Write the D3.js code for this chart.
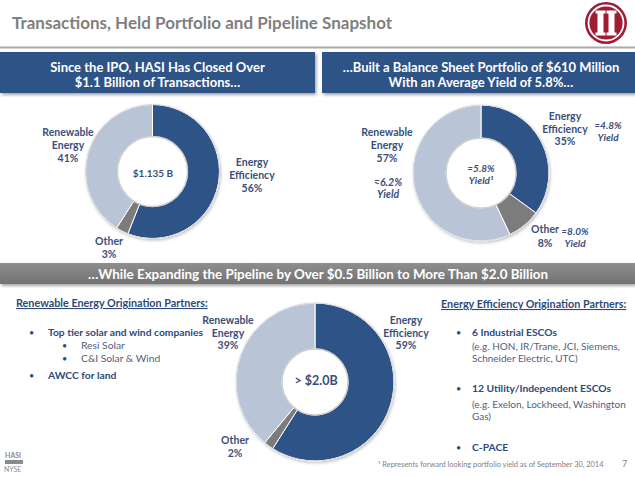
<!DOCTYPE html>
<html><head><meta charset="utf-8">
<script src="https://cdn.jsdelivr.net/npm/d3@7"></script>
<style>
html,body{margin:0;padding:0;background:#fff;}
svg{display:block;font-family:Lato,"Open Sans",sans-serif;}
</style></head>
<body><svg id="c" width="635" height="477"></svg>
<script>
// ---------- data ----------
const sliceCategories = ["Energy Efficiency", "Other", "Renewable Energy"];
const transactionValues = [56, 3, 41];
const portfolioValues = [35, 8, 57];
const pipelineValues = [59, 2, 39];
const portfolioYields = ["≈4.8%", "≈8.0%", "≈6.2%"];
const transactionCenter = "$1.135 B";
const portfolioCenter = ["≈5.8%", "Yield¹"];
const pipelineCenter = "> $2.0B";
const pageTitle = "Transactions, Held Portfolio and Pipeline Snapshot";
const headerLeft = ["Since the IPO, HASI Has Closed Over", "$1.1 Billion of Transactions…"];
const headerRight = ["…Built a Balance Sheet Portfolio of $610 Million", "With an Average Yield of 5.8%…"];
const bandText = "…While Expanding the Pipeline by Over $0.5 Billion to More Than $2.0 Billion";
const reTitle = "Renewable Energy Origination Partners:";
const eeTitle = "Energy Efficiency Origination Partners:";
const footnote = "¹ Represents forward looking portfolio yield as of September 30, 2014";
const pageNumber = "7";

// ---------- setup ----------
const svg = d3.select("#c");
const color = d3.scaleOrdinal().domain(sliceCategories).range(["#2f5286", "#7b7b7b", "#b9c4d6"]);
const labelFill = "#3a4f7a";
const defs = svg.append("defs");
const sh = defs.append("filter").attr("id", "sh").attr("x", "-5%").attr("y", "-20%").attr("width", "110%").attr("height", "160%");
sh.append("feDropShadow").attr("dx", 1.5).attr("dy", 2).attr("stdDeviation", 1.5).attr("flood-color", "#000").attr("flood-opacity", 0.35);
const dsh = defs.append("filter").attr("id", "dsh").attr("x", "-20%").attr("y", "-20%").attr("width", "140%").attr("height", "140%");
dsh.append("feDropShadow").attr("dx", 1).attr("dy", 1.5).attr("stdDeviation", 1.5).attr("flood-color", "#000").attr("flood-opacity", 0.25);
const bandGrad = defs.append("linearGradient").attr("id", "bg").attr("x1", 0).attr("y1", 0).attr("x2", 0).attr("y2", 1);
bandGrad.append("stop").attr("offset", 0).attr("stop-color", "#8e8e8e");
bandGrad.append("stop").attr("offset", 1).attr("stop-color", "#727272");

// ---------- title & logo ----------
svg.append("text").attr("x", 12).attr("y", 28.5).attr("font-size", 17).attr("font-weight", 700)
  .attr("fill", "#7f7f7f").text(pageTitle);
const logo = svg.append("g").attr("transform", "translate(606,23)");
logo.append("circle").attr("r", 21).attr("fill", "#a01c35");
logo.append("circle").attr("r", 17.5).attr("fill", "none").attr("stroke", "#fff").attr("stroke-width", 1.8);
[-5.5, 5.5].forEach(dx => {
  logo.append("rect").attr("x", dx - 3).attr("y", -11).attr("width", 6).attr("height", 22).attr("fill", "#fff");
  logo.append("rect").attr("x", dx - 5).attr("y", -12.5).attr("width", 10).attr("height", 3).attr("fill", "#fff");
  logo.append("rect").attr("x", dx - 5).attr("y", 9.5).attr("width", 10).attr("height", 3).attr("fill", "#fff");
});
svg.append("line").attr("x1", 0).attr("x2", 635).attr("y1", 47.5).attr("y2", 47.5)
  .attr("stroke", "#a9a9a9").attr("stroke-width", 2);

// ---------- header boxes ----------
function header(x, w, lines) {
  svg.append("rect").attr("x", x).attr("y", 52).attr("width", w).attr("height", 41)
    .attr("fill", "#2f5286").attr("filter", "url(#sh)");
  lines.forEach((t, i) => svg.append("text").attr("x", x + w / 2).attr("y", 71.5 + i * 15)
    .attr("text-anchor", "middle").attr("font-size", 13).attr("font-weight", 700).attr("fill", "#fff").text(t));
}
header(0, 315, headerLeft);
header(322, 318, headerRight);

// ---------- band ----------
svg.append("rect").attr("x", 0).attr("y", 263).attr("width", 635).attr("height", 21)
  .attr("fill", "url(#bg)").attr("filter", "url(#sh)");
svg.append("text").attr("x", 318).attr("y", 278.5).attr("text-anchor", "middle")
  .attr("font-size", 13.4).attr("font-weight", 700).attr("fill", "#fff").text(bandText);

// ---------- donuts ----------
function donut(cx, cy, ro, ri, values) {
  const g = svg.append("g").attr("transform", `translate(${cx},${cy})`);
  const pie = d3.pie().sort(null).value(d => d.v);
  const arc = d3.arc().outerRadius(ro).innerRadius(ri);
  const data = values.map((v, i) => ({ k: sliceCategories[i], v }));
  g.append("g").attr("filter", "url(#dsh)").selectAll("path").data(pie(data)).join("path")
    .attr("d", arc).attr("fill", d => color(d.data.k)).attr("stroke", "#fff").attr("stroke-width", 1);
  g.append("circle").attr("r", ri).attr("fill", "#fff").attr("stroke", "#cfcfcf").attr("stroke-width", 1.5);
  g.append("circle").attr("r", ro).attr("fill", "none").attr("stroke", "#d9d9d9").attr("stroke-width", 1);
  return g;
}
function label(x, y, lines, opts = {}) {
  const t = svg.append("text").attr("text-anchor", opts.anchor || "middle")
    .attr("font-size", opts.size || 10.5).attr("font-weight", opts.weight || 700)
    .attr("font-style", opts.italic ? "italic" : "normal").attr("fill", opts.fill || labelFill);
  lines.forEach((l, i) => t.append("tspan").attr("x", x).attr("y", y + i * (opts.lh || 13)).text(l));
  return t;
}
const pct = v => v + "%";

// donut 1
donut(152.5, 171.5, 67, 35, transactionValues);
label(68, 136, ["Renewable", "Energy", pct(transactionValues[2])]);
label(252, 166, ["Energy", "Efficiency", pct(transactionValues[0])]);
label(109, 245, ["Other", pct(transactionValues[1])]);
label(153, 177, [transactionCenter], { size: 10 });

// donut 2
donut(481, 173, 68, 35, portfolioValues);
label(387, 136, ["Renewable", "Energy", pct(portfolioValues[2])]);
label(388, 186, [portfolioYields[2], "Yield"], { italic: true, lh: 12 });
label(565, 120, ["Energy", "Efficiency", pct(portfolioValues[0])], { lh: 12.5 });
label(608, 129, [portfolioYields[0], "Yield"], { italic: true, lh: 11.5, size: 10 });
label(481, 172, portfolioCenter, { italic: true, lh: 11.5, size: 10 });
label(545, 233, ["Other", pct(portfolioValues[1])], { lh: 13.5 });
label(575, 235, [portfolioYields[1], "Yield"], { italic: true, lh: 12, size: 10 });

// donut 3
donut(315, 382, 79, 33, pipelineValues);
label(228, 324, ["Renewable", "Energy", pct(pipelineValues[2])], { lh: 12.5 });
label(406, 324, ["Energy", "Efficiency", pct(pipelineValues[0])], { lh: 12.5 });
label(235, 444, ["Other", pct(pipelineValues[1])], { lh: 13 });
label(316, 385, [pipelineCenter], { size: 12.5 });

// ---------- partner lists ----------
const bold = "#2f4a7a", plain = "#53607e";
function heading(x, y, t) {
  svg.append("text").attr("x", x).attr("y", y).attr("font-size", 10.8).attr("font-weight", 700)
    .attr("fill", bold).attr("text-decoration", "underline").text(t);
}
heading(16, 307, reTitle);
heading(441, 308, eeTitle);
function bullet(bx, tx, y, t, strong) {
  svg.append("text").attr("x", bx).attr("y", y).attr("font-size", 9).attr("fill", bold).text("•");
  svg.append("text").attr("x", tx).attr("y", y).attr("font-size", 10.3).attr("font-weight", strong ? 700 : 400)
    .attr("fill", strong ? bold : plain).text(t);
}
function plainLine(x, y, t) {
  svg.append("text").attr("x", x).attr("y", y).attr("font-size", 10).attr("fill", plain).text(t);
}
bullet(29, 48, 336, "Top tier solar and wind companies", true);
bullet(62, 81, 349, "Resi Solar", false);
bullet(62, 81, 362, "C&I Solar & Wind", false);
bullet(29, 48, 379, "AWCC for land", true);

bullet(456, 472, 336, "6 Industrial ESCOs", true);
plainLine(472, 350, "(e.g. HON, IR/Trane, JCI, Siemens,");
plainLine(472, 362, "Schneider Electric, UTC)");
bullet(456, 472, 392, "12 Utility/Independent ESCOs", true);
plainLine(472, 408, "(e.g. Exelon, Lockheed, Washington");
plainLine(472, 420, "Gas)");
bullet(456, 472, 451, "C-PACE", true);

svg.append("text").attr("x", 378).attr("y", 466.5).attr("font-size", 7.4).attr("fill", "#7f7f7f").text(footnote);
svg.append("text").attr("x", 622).attr("y", 467).attr("font-size", 9).attr("fill", "#7f7f7f").text(pageNumber);

// NYSE mark
const ny = svg.append("g").attr("fill", "#8a8a8a").attr("font-size", 7).attr("font-weight", 700);
ny.append("text").attr("x", 5).attr("y", 458).text("HASI");
ny.append("rect").attr("x", 5).attr("y", 460).attr("width", 18).attr("height", 4).attr("fill", "#8a8a8a");
ny.append("text").attr("x", 4).attr("y", 472).attr("font-weight", 400).text("NYSE");
</script></body></html>
